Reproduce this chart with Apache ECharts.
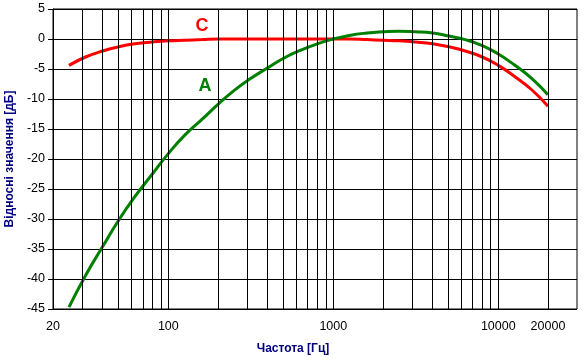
<!DOCTYPE html>
<html><head><meta charset="utf-8">
<script src="https://cdn.jsdelivr.net/npm/echarts@6/dist/echarts.min.js"></script>
<style>html,body{margin:0;padding:0;background:#fff}#c{width:588px;height:363px}</style>
</head><body><div id="c"></div>
<script>
var freqs = [25,31.5,40,50,63,80,100,125,160,200,250,315,400,500,630,800,1000,1250,1600,2000,2500,3150,4000,5000,6300,8000,10000,12500,16000,20000];
var weightA = [-44.7,-39.4,-34.6,-30.2,-26.2,-22.5,-19.1,-16.1,-13.4,-10.9,-8.6,-6.6,-4.8,-3.2,-1.9,-0.8,0,0.6,1.0,1.2,1.3,1.2,1.0,0.5,-0.1,-1.1,-2.5,-4.3,-6.6,-9.3];
var weightC = [-4.4,-3.0,-2.0,-1.3,-0.8,-0.5,-0.3,-0.2,-0.1,0,0,0,0,0,0,0,0,0,-0.1,-0.2,-0.3,-0.5,-0.8,-1.3,-2.0,-3.0,-4.4,-6.2,-8.5,-11.2];
var xLabelValues = [20,100,1000,10000,20000];
var xTickValues = [20,100,1000,10000];
var xGridValues = [30,40,50,60,70,80,90,100,200,300,400,500,600,700,800,900,1000,2000,3000,4000,5000,6000,7000,8000,9000,10000,20000];

function pairs(xs, ys){ return xs.map(function(x,i){ return [x, ys[i]]; }); }

var chart = echarts.init(document.getElementById('c'), null, {renderer:'canvas'});
chart.setOption({
  animation:false,
  backgroundColor:'#fff',
  grid:{left:53, top:9, width:524, height:300, show:true, borderColor:'#000', borderWidth:1, backgroundColor:'transparent', containLabel:false, outerBoundsMode:'none'},
  xAxis:{
    type:'log', logBase:10, min:20, max:30000,
    axisLine:{show:true, lineStyle:{color:'#000', width:1}},
    axisTick:{show:true, customValues:xTickValues, length:4, inside:false, lineStyle:{color:'#000'}},
    axisLabel:{customValues:xLabelValues, margin:11, color:'#000', fontFamily:'Arial, Liberation Sans', fontSize:12.5, showMinLabel:true, showMaxLabel:true,
      formatter:function(v){ return String(Math.round(v)); }},
    splitLine:{show:false}, minorTick:{show:false}, minorSplitLine:{show:false}
  },
  yAxis:{
    type:'value', min:-45, max:5, interval:5,
    name:'Відносні значення [дБ]', nameLocation:'middle', nameGap:36,
    nameTextStyle:{color:'#000080', fontWeight:'bold', fontSize:12, fontFamily:'Arial, Liberation Sans'},
    axisLine:{show:true, lineStyle:{color:'#000', width:1}},
    axisTick:{show:true, length:5, lineStyle:{color:'#000'}},
    axisLabel:{margin:8, color:'#000', fontFamily:'Arial, Liberation Sans', fontSize:12.5},
    splitLine:{show:true, lineStyle:{color:'#000', width:1}}
  },
  series:[
    {type:'line', name:'grid', data:[], silent:true,
     markLine:{symbol:'none', silent:true, animation:false, label:{show:false},
       lineStyle:{color:'#000', width:1, type:'solid'},
       data:xGridValues.map(function(v){ return {xAxis:v}; })}},
    {type:'line', name:'C', data:pairs(freqs, weightC), smooth:0.5, showSymbol:false,
     lineStyle:{color:'#ff0000', width:3}, itemStyle:{color:'#ff0000'}, z:3},
    {type:'line', name:'A', data:pairs(freqs, weightA), smooth:0.5, showSymbol:false,
     lineStyle:{color:'#008000', width:3}, itemStyle:{color:'#008000'}, z:4}
  ],
  graphic:[
    {type:'text', x:293, y:349, style:{text:'Частота [Гц]', fill:'#000080', font:'bold 12px Arial, "Liberation Sans"', align:'center', verticalAlign:'middle'}},
    {type:'text', x:202, y:26.5, style:{text:'C', fill:'#ff0000', font:'bold 18px Arial, "Liberation Sans"', align:'center', verticalAlign:'middle'}},
    {type:'text', x:205, y:86, style:{text:'A', fill:'#008000', font:'bold 18px Arial, "Liberation Sans"', align:'center', verticalAlign:'middle'}}
  ]
});
</script></body></html>
